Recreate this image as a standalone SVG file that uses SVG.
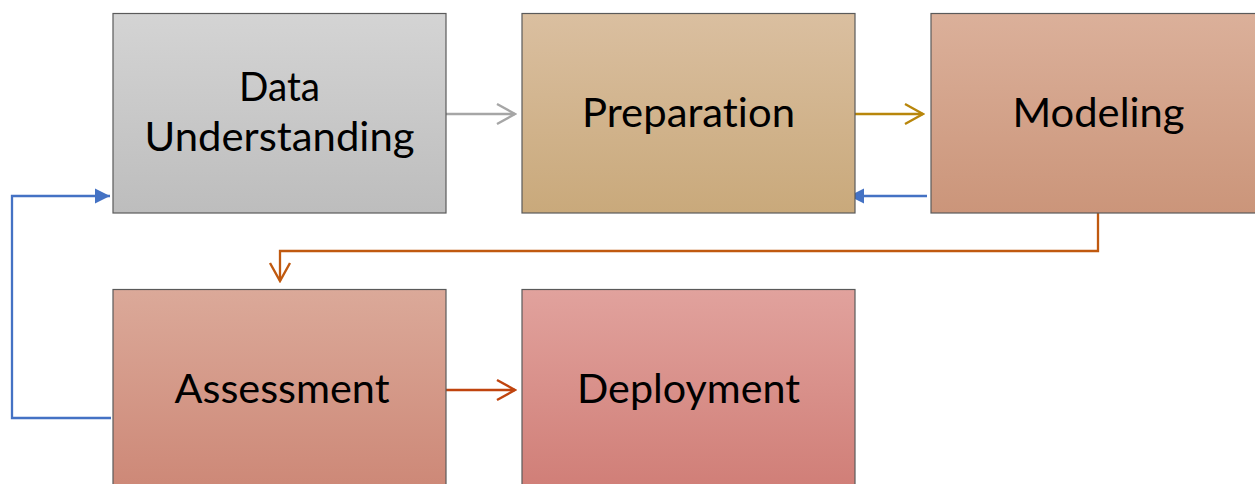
<svg xmlns="http://www.w3.org/2000/svg" width="1255" height="484" viewBox="0 0 1255 484">
<defs>
<linearGradient id="gGray" x1="0" y1="0" x2="0" y2="1"><stop offset="0" stop-color="#D4D4D4"/><stop offset="1" stop-color="#BDBDBD"/></linearGradient>
<linearGradient id="gPrep" x1="0" y1="0" x2="0" y2="1"><stop offset="0" stop-color="#DABFA0"/><stop offset="1" stop-color="#C9A97B"/></linearGradient>
<linearGradient id="gModel" x1="0" y1="0" x2="0" y2="1"><stop offset="0" stop-color="#DBB09A"/><stop offset="1" stop-color="#CB957A"/></linearGradient>
<linearGradient id="gAssess" x1="0" y1="0" x2="0" y2="1"><stop offset="0" stop-color="#DBA999"/><stop offset="1" stop-color="#CD8877"/></linearGradient>
<linearGradient id="gDeploy" x1="0" y1="0" x2="0" y2="1"><stop offset="0" stop-color="#E1A29D"/><stop offset="1" stop-color="#D07E77"/></linearGradient>
<marker id="mGray" markerUnits="userSpaceOnUse" viewBox="-22 -12 24 24" markerWidth="24" markerHeight="24" refX="0" refY="0" orient="auto"><path d="M-18,-10 L0,0 L-18,10" fill="none" stroke="#A6A6A6" stroke-width="2.4"/></marker>
<marker id="mGold" markerUnits="userSpaceOnUse" viewBox="-22 -12 24 24" markerWidth="24" markerHeight="24" refX="0" refY="0" orient="auto"><path d="M-18,-10 L0,0 L-18,10" fill="none" stroke="#B8860B" stroke-width="2.4"/></marker>
<marker id="mOrange" markerUnits="userSpaceOnUse" viewBox="-22 -12 24 24" markerWidth="24" markerHeight="24" refX="0" refY="0" orient="auto"><path d="M-18,-10 L0,0 L-18,10" fill="none" stroke="#C0590F" stroke-width="2.4"/></marker>
<marker id="mRed" markerUnits="userSpaceOnUse" viewBox="-22 -12 24 24" markerWidth="24" markerHeight="24" refX="0" refY="0" orient="auto"><path d="M-18,-10 L0,0 L-18,10" fill="none" stroke="#C0440E" stroke-width="2.4"/></marker>
<marker id="mBlue" markerUnits="userSpaceOnUse" viewBox="-17 -9 18 18" markerWidth="18" markerHeight="18" refX="0" refY="0" orient="auto"><path d="M-15,-7.5 L0,0 L-15,7.5 Z" fill="#4472C4"/></marker>
</defs>
<style>
.box{stroke:#5A5A5A;stroke-width:1.2}
.lbl{font-family:Lato,"Open Sans","Liberation Sans",sans-serif;font-size:40px;fill:#000;text-anchor:middle;font-variant-ligatures:none}
.c{fill:none;stroke-width:2.3}
</style>
<g id="connectors">
<path class="c" d="M446,114 L515,114" stroke="#A6A6A6" marker-end="url(#mGray)"/>
<path class="c" d="M855,114 L923,114" stroke="#B8860B" marker-end="url(#mGold)"/>
<path class="c" d="M927,196 L849,196" stroke="#4472C4" marker-end="url(#mBlue)"/>
<path class="c" d="M1098,213 L1098,251 L280,251 L280,281" stroke="#C0590F" marker-end="url(#mOrange)"/>
<path class="c" d="M446,390 L515,390" stroke="#C0440E" marker-end="url(#mRed)"/>
<path class="c" d="M111,418 L12,418 L12,196 L110,196" stroke="#4472C4" stroke-width="1.7" marker-end="url(#mBlue)"/>
</g>
<g id="node-data-understanding">
<rect class="box" x="113" y="13.5" width="333" height="199.5" fill="url(#gGray)"/>
<text class="lbl" x="279.5" y="101" textLength="81" lengthAdjust="spacingAndGlyphs">Data</text>
<text class="lbl" x="279.5" y="151" textLength="270" lengthAdjust="spacingAndGlyphs">Understanding</text>
</g>
<g id="node-preparation">
<rect class="box" x="522" y="13.5" width="333" height="199.5" fill="url(#gPrep)"/>
<text class="lbl" x="688.5" y="126.5" textLength="213" lengthAdjust="spacingAndGlyphs">Preparation</text>
</g>
<g id="node-modeling">
<rect class="box" x="931" y="13.5" width="333" height="199.5" fill="url(#gModel)"/>
<text class="lbl" x="1098.5" y="126.5" textLength="172" lengthAdjust="spacingAndGlyphs">Modeling</text>
</g>
<g id="node-assessment">
<rect class="box" x="113" y="289.5" width="333" height="199.5" fill="url(#gAssess)"/>
<text class="lbl" x="282" y="402.5" textLength="215" lengthAdjust="spacingAndGlyphs">Assessment</text>
</g>
<g id="node-deployment">
<rect class="box" x="522" y="289.5" width="333" height="199.5" fill="url(#gDeploy)"/>
<text class="lbl" x="688.5" y="402.5" textLength="223" lengthAdjust="spacingAndGlyphs">Deployment</text>
</g>
</svg>
